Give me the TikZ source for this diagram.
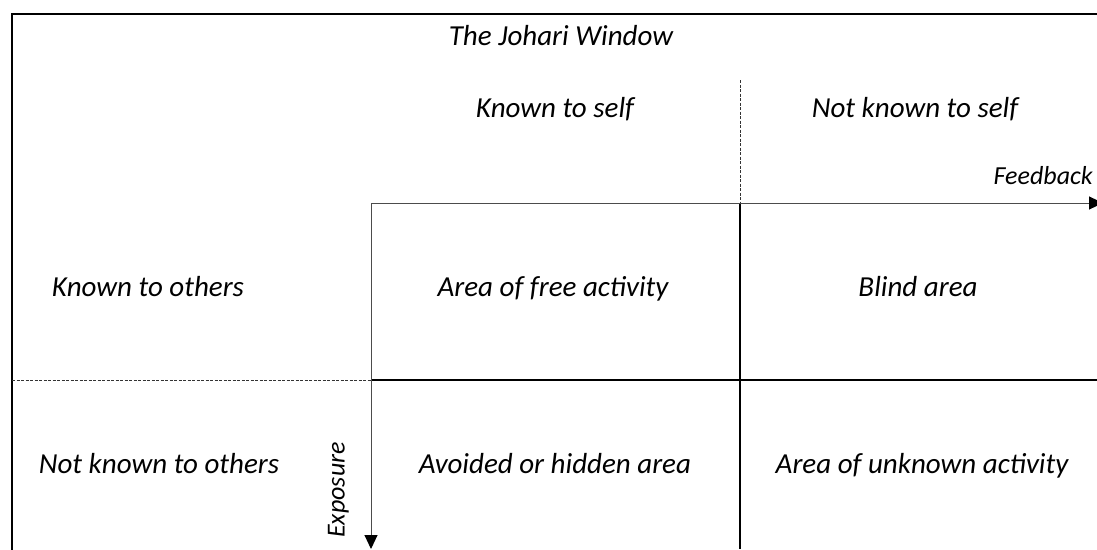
\documentclass[tikz,border=0pt]{standalone}
\usepackage{fontspec}
\setmainfont{Carlito}
\usetikzlibrary{arrows.meta}

\begin{document}
\begin{tikzpicture}[x=1pt, y=-1pt,
    label/.style={font=\fontsize{29}{34}\selectfont\itshape, inner sep=0pt,
      text height=0.62em, text depth=0.08em},
    small/.style={font=\fontsize{26}{30}\selectfont\itshape},
    frameline/.style={line width=2.2pt, line cap=rect},
    gridline/.style={line width=1.6pt},
    guideline/.style={line width=0.9pt, dashed, dash pattern=on 3pt off 1.5pt, black!80},
    axisarrow/.style={line width=1pt, black!70,
      -{Triangle[width=13pt, length=14pt, black]}}]
    \useasboundingbox (0,0) rectangle (1097,549);
    % corners of the window
    \coordinate (tl) at (12,14);
    \coordinate (tr) at (1097,14);
    \coordinate (bl) at (12,549);
    \coordinate (o) at (371,203);
    \coordinate (fbend) at (1103,203);
    \coordinate (xend) at (371,549);
    \coordinate (midtop) at (740,80);
    \coordinate (midaxis) at (740,203);
    \coordinate (midbot) at (740,549);
    \coordinate (rowleft) at (12,380);
    \coordinate (rowaxis) at (371,380);
    \coordinate (rowright) at (1097,380);
    % outer frame
    \draw[frameline] (bl) -- (tl) -- (tr);
    % dashed guides
    \draw[guideline] (midtop) -- (midaxis);
    \draw[guideline] (rowleft) -- (rowaxis);
    % window panes
    \draw[gridline] (midaxis) -- (midbot);
    \draw[gridline] (rowaxis) -- (rowright);
    % feedback and exposure
    \draw[axisarrow] (o) -- (fbend);
    \draw[axisarrow] (o) -- (xend);
    % texts
    \node[label] (title) at (561,43) {The Johari Window};
    \node[label] (kself) at (555,115) {Known to self};
    \node[label] (nkself) at (915,115) {Not known to self};
    \node[label, small, anchor=east] (feedback) at (1093,182) {Feedback};
    \node[label] (kothers) at (148,294) {Known to others};
    \node[label] (free) at (553,294) {Area of free activity};
    \node[label] (blind) at (918,294) {Blind area};
    \node[label] (nkothers) at (159,471) {Not known to others};
    \node[label, small, rotate=90] (exposure) at (342,490) {Exposure};
    \node[label] (hidden) at (555,471) {Avoided or hidden area};
    \node[label] (unknown) at (922,471) {Area of unknown activity};
\end{tikzpicture}
\end{document}
